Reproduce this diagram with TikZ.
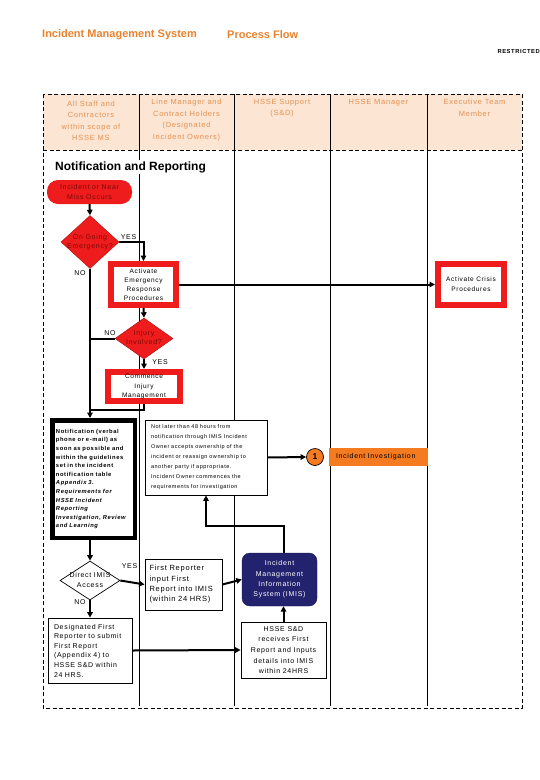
\documentclass[tikz,border=0pt]{standalone}
\usepackage{fontspec}
\setmainfont{Liberation Sans}
\newfontfamily\trk[LetterSpace=10]{Liberation Sans}
\usetikzlibrary{shapes.geometric,arrows.meta}

\definecolor{imsorange}{HTML}{E8822E}
\definecolor{lanetext}{HTML}{E39152}
\definecolor{lanefill}{HTML}{FDE5D3}
\definecolor{alarmred}{HTML}{EE1C1C}
\definecolor{alarmtext}{HTML}{7A0A0A}
\definecolor{imisblue}{HTML}{22226E}
\definecolor{investor}{HTML}{F47B20}

\newcommand{\dlines}[1]{\makebox[0pt]{\begin{tabular}{@{}c@{}}#1\end{tabular}}}

\tikzset{
  flow/.style={-{Triangle[length=5.5pt,width=5.5pt]}, line width=2pt},
  link/.style={line width=2pt},
  lanehead/.style={anchor=north, inner sep=0pt, align=center, text=lanetext,
    font=\trk\fontsize{7.5}{11.5}\selectfont},
  redbox/.style={draw=alarmred, line width=6pt, fill=white, inner sep=0pt, align=center},
  plainbox/.style={draw, line width=0.8pt, fill=white, inner sep=0pt},
  decision/.style={diamond, inner sep=0pt, draw=alarmred!75!black, line width=0.5pt,
    fill=alarmred, text=alarmtext, font=\trk\fontsize{7}{9.5}\selectfont},
  answer/.style={inner sep=0pt, font=\trk\fontsize{7}{8}\selectfont},
}

\begin{document}
\begin{tikzpicture}[x=1pt, y=-1pt, font=\trk\fontsize{6.5}{9.5}\selectfont]
\useasboundingbox (0,0) rectangle (540,780);

\node[anchor=west, inner sep=0pt, text=imsorange, font=\bfseries\fontsize{11}{13}\selectfont]
  (title) at (42,35) {Incident Management System};
\node[anchor=west, inner sep=0pt, text=imsorange, font=\bfseries\fontsize{11}{13}\selectfont]
  (subtitle) at (227,35) {Process Flow};
\node[anchor=east, inner sep=0pt, font=\trk\bfseries\fontsize{5.8}{7}\selectfont]
  (restricted) at (540,51) {RESTRICTED};

% swim lanes
\fill[lanefill] (43,94) rectangle (522,150);
\foreach \x in {139,234,330,427}
  \draw[line width=0.7pt] (\x,94) -- (\x,706);
\draw[dash pattern=on 4pt off 2.5pt, line width=0.7pt] (43,94) rectangle (522,708);
\draw[dash pattern=on 4pt off 2.5pt, line width=0.7pt] (43,150) -- (522,150);

\node[lanehead] (staff) at (91,100.5) {All Staff and\\Contractors\\within scope of\\HSSE MS};
\node[lanehead] (owners) at (186.5,99) {Line Manager and\\Contract Holders\\(Designated\\Incident Owners)};
\node[lanehead] (support) at (282,99) {HSSE Support\\(S\&D)};
\node[lanehead] (manager) at (378.5,99) {HSSE Manager};
\node[lanehead] (exec) at (474.5,99) {Executive Team\\Member};

\node[anchor=west, fill=white, inner sep=1pt, font=\bfseries\fontsize{12}{14}\selectfont]
  (section) at (54,167) {Notification and Reporting};

% first column and owners
\node[fill=alarmred, text=alarmtext, rounded corners=11pt, minimum width=85pt, minimum height=24pt,
  inner sep=0pt, align=center, font=\trk\fontsize{7}{10}\selectfont]
  (incident) at (89.5,192) {Incident or Near\\Miss Occurs};
\node[decision, minimum width=58pt, minimum height=53pt] (ongoing) at (90,242) {\dlines{On Going\\Emergency?}};
\node[redbox, minimum width=65pt, minimum height=41pt, font=\trk\fontsize{6.5}{9.2}\selectfont]
  (activate) at (143.5,284.5) {Activate\\Emergency\\Response\\Procedures};
\node[redbox, minimum width=66pt, minimum height=41pt, font=\trk\fontsize{6.5}{10}\selectfont]
  (crisis) at (471,284.5) {Activate Crisis\\Procedures};
\node[decision, minimum width=58pt, minimum height=41pt, font=\trk\fontsize{7}{9}\selectfont]
  (injury) at (144,338.5) {\dlines{Injury\\Involved?}};
\node[redbox, minimum width=72pt, minimum height=29pt, font=\trk\fontsize{6.5}{9.8}\selectfont]
  (commence) at (144,386.5) {Commence\\Injury\\Management};
\coordinate (merge) at (90,410);

\node[draw, line width=4.5pt, fill=white, inner sep=0pt, minimum width=82.5pt, minimum height=117.5pt,
  text width=75pt, align=left, font=\trk\bfseries\fontsize{5.8}{8.6}\selectfont]
  (notify) at (93.5,479) {Notification (verbal\\phone or e-mail) as\\soon as possible and\\within the guidelines\\set in the incident\\notification table\\
  \textit{Appendix 3.}\\\textit{Requirements for}\\\textit{HSSE Incident}\\\textit{Reporting}\\\textit{Investigation, Review}\\\textit{and Learning}};
\node[plainbox, minimum width=122pt, minimum height=75pt, text width=110pt, align=left,
  font=\trk\fontsize{5.5}{10}\selectfont]
  (ownership) at (206,457.5) {Not later than 48 hours from\\notification through IMIS Incident\\Owner accepts ownership of the\\incident or reassign ownership to\\another party if appropriate.\\Incident Owner commences the\\requirements for investigation};
\node[circle, draw, line width=0.7pt, fill=investor, minimum size=17pt, inner sep=0pt,
  font=\bfseries\fontsize{8.5}{9}\selectfont] (one) at (315,457) {1};
\node[fill=investor, minimum width=99pt, minimum height=18pt, inner sep=0pt, text width=85pt, align=left,
  font=\trk\fontsize{7}{8}\selectfont] (investigation) at (378.5,457) {Incident Investigation};

\node[diamond, draw, line width=0.7pt, fill=white, inner sep=0pt, minimum width=60pt, minimum height=39pt,
  font=\trk\fontsize{7}{10}\selectfont] (direct) at (90,580.5) {\dlines{Direct IMIS\\Access}};
\node[plainbox, minimum width=77pt, minimum height=51pt, text width=68pt, align=left,
  font=\trk\fontsize{7.5}{10.3}\selectfont]
  (first) at (183.5,584.5) {First Reporter\\input First\\Report into IMIS\\(within 24 HRS)};
\node[fill=imisblue, draw=imisblue!70!black, rounded corners=8pt, minimum width=75pt, minimum height=53pt,
  inner sep=0pt, align=center, text=white, font=\trk\fontsize{7}{10.3}\selectfont]
  (imis) at (279.5,579.5) {Incident\\Management\\Information\\System (IMIS)};
\node[plainbox, minimum width=85pt, minimum height=56pt, align=center, font=\trk\fontsize{7}{10.7}\selectfont]
  (receive) at (283.5,650) {HSSE S\&D\\receives First\\Report and Inputs\\details into IMIS\\within 24HRS};
\node[plainbox, minimum width=84pt, minimum height=65pt, text width=72pt, align=left,
  font=\trk\fontsize{7}{9.6}\selectfont]
  (designated) at (90,650.5) {Designated First\\Reporter to submit\\First Report\\(Appendix 4) to\\HSSE S\&D within\\24 HRS.};

\node[answer] (yesemerg) at (128.5,237.5) {YES};
\node[answer] (noemerg) at (80,273) {NO};
\node[answer] (noinjury) at (110,333) {NO};
\node[answer] (yesinjury) at (160,362.5) {YES};
\node[answer] (yesimis) at (129.5,566.5) {YES};
\node[answer] (noimis) at (80,602.5) {NO};

% connectors
\draw[flow] (incident.south) -- (ongoing.north);
\draw[flow] (ongoing.east) -| (activate.north);
\draw[flow] (ongoing.south) -- (ongoing.south |- notify.north);
\draw[flow] (activate.east) -- (crisis.west);
\draw[flow] (activate.south) -- (injury.north);
\draw[link] (injury.west) -- (ongoing.south |- injury.west);
\draw[flow] (injury.south) -- (commence.north);
\draw[link] (commence.south) |- (merge);
\draw[flow] (ownership.east) -- (one.west);
\draw[flow] (direct.north |- notify.south) -- (direct.north);
\draw[flow] (direct.east) -- (first.west);
\draw[flow] (direct.south) -- (designated.north);
\draw[flow] (first.east) -- (imis.west);
\draw[flow] (designated.east) -- (receive.west);
\draw[flow] (receive.north) -- (receive.north |- imis.south);
\draw[flow] (receive.north |- imis.north) -- ++(0,-27) -| (ownership.south);
\end{tikzpicture}
\end{document}
